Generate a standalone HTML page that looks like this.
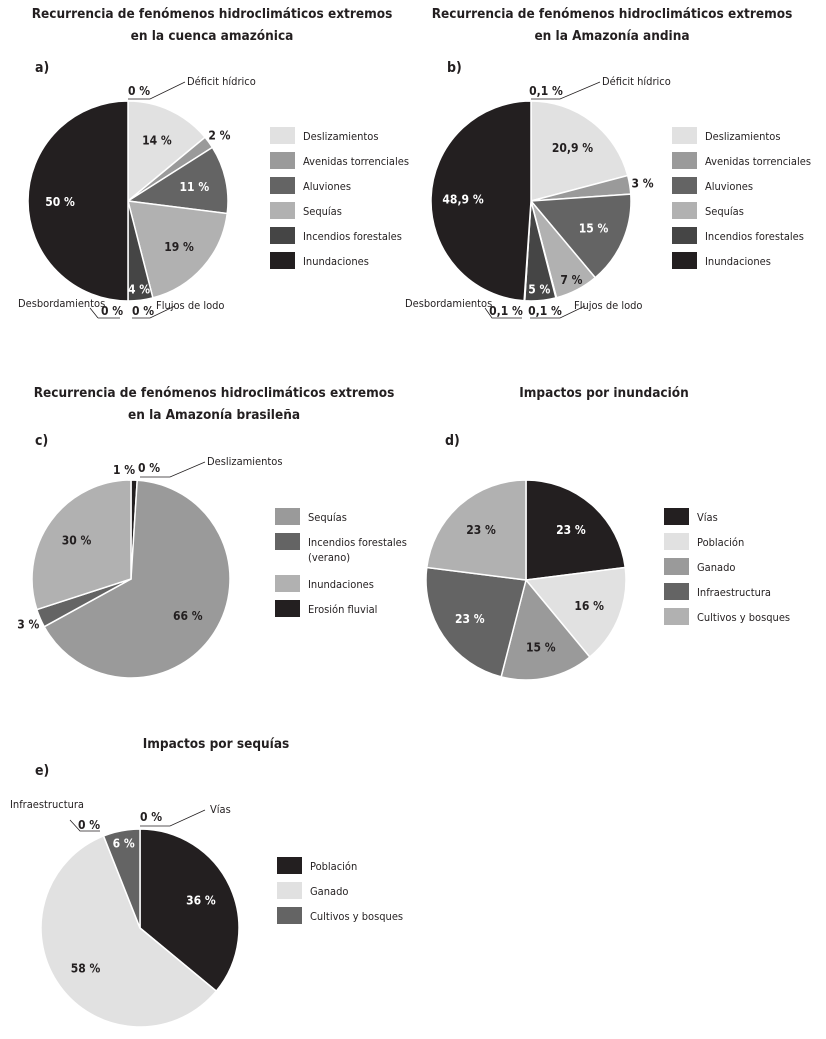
<!DOCTYPE html>
<html><head><meta charset="utf-8">
<style>
body{margin:0;background:#fff;}
svg{display:block;font-family:"DejaVu Sans Condensed","Liberation Sans Narrow","Liberation Sans",sans-serif;}
.t{font-size:13.5px;font-weight:bold;fill:#231f20;text-anchor:middle;}
.p{font-size:14px;font-weight:bold;fill:#231f20;}
.l{font-size:11px;fill:#231f20;}
.v{font-size:12px;font-weight:bold;text-anchor:middle;}
.c{font-size:11px;fill:#231f20;}
</style></head>
<body>
<svg id="s" width="826" height="1039" viewBox="0 0 826 1039">
<g>
<text class="t" x="212" y="18">Recurrencia de fenómenos hidroclimáticos extremos</text>
<text class="t" x="212" y="40">en la cuenca amazónica</text>
<text class="t" x="612" y="18">Recurrencia de fenómenos hidroclimáticos extremos</text>
<text class="t" x="612" y="40">en la Amazonía andina</text>
<text class="t" x="214" y="397">Recurrencia de fenómenos hidroclimáticos extremos</text>
<text class="t" x="214" y="419">en la Amazonía brasileña</text>
<text class="t" x="604" y="397">Impactos por inundación</text>
<text class="t" x="216" y="748">Impactos por sequías</text>
<text class="p" x="35" y="72">a)</text>
<text class="p" x="447" y="72">b)</text>
<text class="p" x="35" y="445">c)</text>
<text class="p" x="445" y="445">d)</text>
<text class="p" x="35" y="775">e)</text>
</g>
<g stroke="#231f20" stroke-width="0.8" fill="none">
<polyline points="128,99 150,99 185,82"/>
<polyline points="98,318 120,318"/>
<polyline points="132,318 150,318 175,306"/>
<polyline points="90,308 98,318"/>
<polyline points="531,99 560,99 600,82"/>
<polyline points="485,308 492,318 522,318"/>
<polyline points="530,318 560,318 585,306"/>
<polyline points="140,477 170,477 205,462"/>
<polyline points="70,820 80,831 100,831"/>
<polyline points="140,826 170,826 205,810"/>
</g>
<g>
<text class="v" x="139" y="95" fill="#231f20">0 %</text>
<text class="c" x="187" y="85">Déficit hídrico</text>
<text class="c" x="18" y="307">Desbordamientos</text>
<text class="v" x="112" y="315" fill="#231f20">0 %</text>
<text class="v" x="143" y="315" fill="#231f20">0 %</text>
<text class="c" x="156" y="309">Flujos de lodo</text>
<text class="v" x="546" y="95" fill="#231f20">0,1 %</text>
<text class="c" x="602" y="85">Déficit hídrico</text>
<text class="c" x="405" y="307">Desbordamientos</text>
<text class="v" x="506" y="315" fill="#231f20">0,1 %</text>
<text class="v" x="545" y="315" fill="#231f20">0,1 %</text>
<text class="c" x="574" y="309">Flujos de lodo</text>
<text class="v" x="124" y="474" fill="#231f20">1 %</text>
<text class="v" x="149" y="472" fill="#231f20">0 %</text>
<text class="c" x="207" y="465">Deslizamientos</text>
<text class="c" x="10" y="808">Infraestructura</text>
<text class="v" x="89" y="829" fill="#231f20">0 %</text>
<text class="v" x="151" y="821" fill="#231f20">0 %</text>
<text class="c" x="210" y="813">Vías</text>
</g>
</svg>
<script>
// Chart a: cuenca amazónica
const aCats=["Deslizamientos","Avenidas torrenciales","Aluviones","Sequías","Flujos de lodo","Incendios forestales","Desbordamientos","Inundaciones"];
const aVals=[14,2,11,19,0,4,0,50];
const aLabels=["14 %","2 %","11 %","19 %","","4 %","","50 %"];
// Chart b: Amazonía andina
const bCats=aCats;
const bVals=[20.9,3,15,7,0.1,5,0.1,48.9];
const bLabels=["20,9 %","3 %","15 %","7 %","","5 %","","48,9 %"];
// Chart c: Amazonía brasileña
const cCats=["Erosión fluvial","Sequías","Incendios forestales","Inundaciones"];
const cVals=[1,66,3,30];
const cLabels=["","66 %","3 %","30 %"];
// Chart d: impactos por inundación
const dCats=["Vías","Población","Ganado","Infraestructura","Cultivos y bosques"];
const dVals=[23,16,15,23,23];
const dLabels=["23 %","16 %","15 %","23 %","23 %"];
// Chart e: impactos por sequías
const eCats=["Población","Ganado","Cultivos y bosques"];
const eVals=[36,58,6];
const eLabels=["36 %","58 %","6 %"];

const COL={"Deslizamientos":"#e1e1e1","Avenidas torrenciales":"#9a9a9a","Aluviones":"#646464","Sequías":"#b1b1b1","Flujos de lodo":"#888","Incendios forestales":"#454545","Desbordamientos":"#888","Inundaciones":"#231f20","Erosión fluvial":"#231f20","Vías":"#231f20","Población":"#e1e1e1","Ganado":"#9a9a9a","Infraestructura":"#646464","Cultivos y bosques":"#b1b1b1"};
const CCOL={"Sequías":"#9a9a9a","Incendios forestales":"#646464","Inundaciones":"#b1b1b1","Erosión fluvial":"#231f20"};
const ECOL={"Población":"#231f20","Ganado":"#e1e1e1","Cultivos y bosques":"#646464"};
const NS="http://www.w3.org/2000/svg";
const svg=document.getElementById('s');
function mk(t,a){const e=document.createElementNS(NS,t);for(const k in a)e.setAttribute(k,a[k]);return e;}
function lum(c){const h=c.replace('#','');const n=h.length===3?h.split('').map(x=>parseInt(x+x,16)):[0,2,4].map(i=>parseInt(h.substr(i,2),16));return n[0];}
function pie(id,cx,cy,r,cats,vals,labels,cmap){
  const g=mk('g',{});
  
  
  svg.appendChild(g);
  const tot=vals.reduce((s,v)=>s+v,0);
  let a0=0;
  vals.forEach((v,i)=>{
    const a1=a0+v/tot*2*Math.PI;
    const col=cmap[cats[i]];
    if(v>0){
      const x0=cx+r*Math.sin(a0),y0=cy-r*Math.cos(a0),x1=cx+r*Math.sin(a1),y1=cy-r*Math.cos(a1);
      const lg=(a1-a0)>Math.PI?1:0;
      const p=mk('path',{d:`M${cx},${cy}L${x0},${y0}A${r},${r} 0 ${lg} 1 ${x1},${y1}Z`,fill:col,stroke:'#fff','stroke-width':1.5});
      
      
      g.appendChild(p);
    }
    if(labels[i]){
      const am=(a0+a1)/2;
      const pct=v/tot*100;
      const f=pct<3.5?1.13:(pct<8?0.88:0.68);
      const tx=cx+f*r*Math.sin(am),ty=cy-f*r*Math.cos(am)+5;
      const inside=f<1;
      const t=mk('text',{class:'v',x:tx,y:ty,fill:(inside&&lum(col)<120)?'#fff':'#231f20'});
      t.textContent=labels[i];
      
      
      g.appendChild(t);
    }
    a0=a1;
  });
}
function legend(id,x,y,items,cmap,gaps){
  const g=mk('g',{});
  
  
  svg.appendChild(g);
  let yy=y;
  items.forEach((it,i)=>{
    const r=mk('rect',{x:x,y:yy,width:25,height:17,fill:cmap[it.k]});
    
    
    g.appendChild(r);
    it.t.forEach((line,j)=>{
      const t=mk('text',{class:'l',x:x+33,y:yy+13+j*15});
      t.textContent=line;
      
      
      g.appendChild(t);
    });
    yy+=gaps[i];
  });
}
pie('a',128,201,100,aCats,aVals,aLabels,COL);
pie('b',531,201,100,bCats,bVals,bLabels,COL);
pie('c',131,579,99,cCats,cVals,cLabels,CCOL);
pie('d',526,580,100,dCats,dVals,dLabels,COL);
pie('e',140,928,99,eCats,eVals,eLabels,ECOL);
const abItems=[{k:"Deslizamientos",t:["Deslizamientos"]},{k:"Avenidas torrenciales",t:["Avenidas torrenciales"]},{k:"Aluviones",t:["Aluviones"]},{k:"Sequías",t:["Sequías"]},{k:"Incendios forestales",t:["Incendios forestales"]},{k:"Inundaciones",t:["Inundaciones"]}];
legend('a',270,127,abItems,COL,[25,25,25,25,25,25]);
legend('b',672,127,abItems,COL,[25,25,25,25,25,25]);
legend('c',275,508,[{k:"Sequías",t:["Sequías"]},{k:"Incendios forestales",t:["Incendios forestales","(verano)"]},{k:"Inundaciones",t:["Inundaciones"]},{k:"Erosión fluvial",t:["Erosión fluvial"]}],CCOL,[25,42,25,25]);
legend('d',664,508,dCats.map(k=>({k:k,t:[k]})),COL,[25,25,25,25,25]);
legend('e',277,857,eCats.map(k=>({k:k,t:[k]})),ECOL,[25,25,25]);
</script>
</body></html>
